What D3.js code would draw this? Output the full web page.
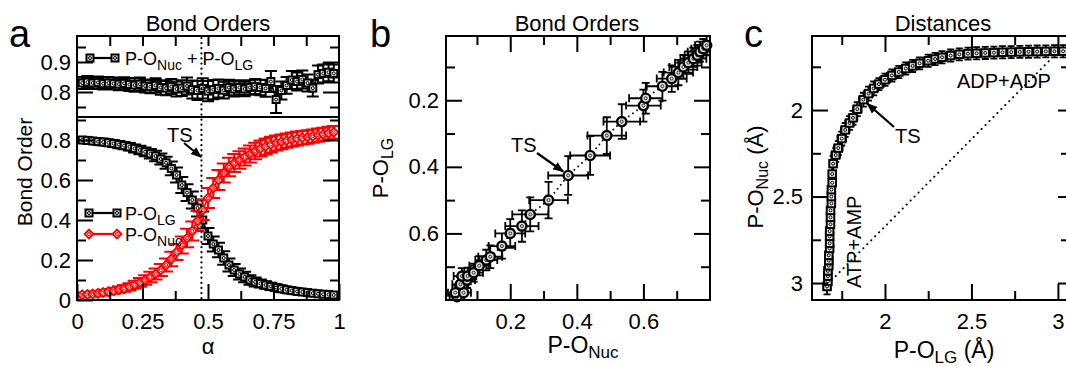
<!DOCTYPE html>
<html>
<head>
<meta charset="utf-8">
<script src="https://cdn.jsdelivr.net/npm/d3@7"></script>
<style>
  body { margin: 0; background: #fff; }
  svg { display: block; font-family: "Liberation Sans", Arial, Helvetica, sans-serif; }
  .tick line { stroke: #000; stroke-width: 2; }
  .tick text { font-size: 22px; fill: #000; }
</style>
</head>
<body>
<svg id="fig" width="1066" height="366"></svg>
<script>
// ---------- panel a : bond orders along alpha ----------
const alphaA = [0.02,0.04,0.06,0.08,0.10,0.12,0.14,0.16,0.18,0.20,0.22,0.24,0.26,0.28,0.30,0.32,0.34,0.36,0.38,0.40,
  0.42,0.44,0.46,0.48,0.50,0.52,0.54,0.56,0.58,0.60,0.62,0.64,0.66,0.68,0.70,0.72,0.74,0.76,0.78,0.80,
  0.82,0.84,0.86,0.88,0.90,0.92,0.94,0.96,0.98];
const lgBO = [0.800,0.798,0.795,0.792,0.790,0.786,0.782,0.777,0.772,0.766,0.758,0.750,0.741,0.731,0.720,0.705,0.686,0.658,0.625,0.575,
  0.537,0.500,0.460,0.400,0.320,0.280,0.250,0.210,0.175,0.150,0.130,0.115,0.100,0.090,0.082,0.075,0.068,0.062,0.056,0.051,
  0.047,0.043,0.040,0.037,0.034,0.031,0.029,0.027,0.025];
const lgErr = [0.015,0.015,0.015,0.015,0.016,0.016,0.017,0.018,0.018,0.019,0.020,0.021,0.022,0.024,0.026,0.028,0.030,0.034,0.038,0.040,
  0.042,0.042,0.042,0.042,0.040,0.038,0.036,0.034,0.032,0.030,0.028,0.026,0.024,0.022,0.020,0.019,0.018,0.017,0.016,0.015,
  0.014,0.014,0.013,0.013,0.012,0.012,0.012,0.012,0.012];
const nucBO = [0.026,0.028,0.030,0.033,0.037,0.041,0.046,0.052,0.058,0.066,0.076,0.088,0.100,0.115,0.130,0.150,0.175,0.205,0.240,0.275,
  0.310,0.345,0.395,0.450,0.510,0.560,0.600,0.635,0.665,0.685,0.700,0.715,0.730,0.745,0.758,0.768,0.777,0.785,0.791,0.797,
  0.802,0.807,0.811,0.815,0.819,0.824,0.829,0.834,0.839];
const nucErr = [0.012,0.012,0.013,0.013,0.014,0.014,0.015,0.016,0.017,0.018,0.020,0.022,0.024,0.026,0.028,0.030,0.033,0.036,0.040,0.043,
  0.046,0.048,0.050,0.050,0.050,0.050,0.050,0.048,0.046,0.045,0.044,0.043,0.042,0.041,0.040,0.040,0.039,0.038,0.037,0.036,
  0.035,0.035,0.034,0.034,0.033,0.033,0.032,0.032,0.031];
const sumBO = [0.830,0.833,0.830,0.832,0.828,0.830,0.828,0.826,0.829,0.825,0.823,0.826,0.820,0.818,0.822,0.815,0.813,0.818,0.810,0.813,
  0.820,0.808,0.805,0.812,0.803,0.808,0.812,0.806,0.815,0.810,0.815,0.810,0.815,0.818,0.815,0.812,0.835,0.775,0.805,0.822,
  0.840,0.835,0.842,0.830,0.813,0.858,0.862,0.866,0.862];
const sumErr = [0.020,0.020,0.020,0.020,0.020,0.020,0.020,0.020,0.020,0.022,0.022,0.022,0.022,0.022,0.024,0.024,0.024,0.025,0.025,0.026,
  0.028,0.030,0.032,0.034,0.034,0.032,0.030,0.028,0.026,0.025,0.024,0.024,0.024,0.025,0.026,0.028,0.035,0.045,0.030,0.028,
  0.030,0.030,0.030,0.028,0.028,0.030,0.030,0.030,0.030];
const tsAlpha = 0.475;

// ---------- panel b : P-O(LG) against P-O(Nuc) ----------
const bNuc = [0.040,0.035,0.060,0.050,0.070,0.055,0.072,0.090,0.107,0.128,0.140,0.175,0.200,0.235,0.260,0.315,0.374,0.440,0.490,0.535,
  0.600,0.607,0.657,0.685,0.705,0.720,0.735,0.750,0.762,0.770,0.780,0.790];
const bLG = [0.790,0.778,0.778,0.753,0.740,0.728,0.728,0.718,0.697,0.680,0.670,0.638,0.600,0.578,0.543,0.500,0.426,0.366,0.306,0.264,
  0.216,0.194,0.158,0.135,0.117,0.100,0.087,0.075,0.065,0.054,0.045,0.035];
const bNucErr = [0.022,0.022,0.022,0.024,0.024,0.025,0.026,0.028,0.030,0.033,0.036,0.040,0.045,0.050,0.054,0.058,0.060,0.060,0.058,0.055,
  0.052,0.050,0.047,0.045,0.044,0.042,0.040,0.039,0.038,0.037,0.036,0.035];
const bLGErr = [0.022,0.022,0.022,0.022,0.024,0.024,0.025,0.027,0.029,0.031,0.034,0.038,0.043,0.047,0.051,0.055,0.058,0.058,0.055,0.052,
  0.048,0.046,0.043,0.040,0.038,0.036,0.034,0.033,0.031,0.030,0.029,0.028];
const bTS = [0.374, 0.426];

// ---------- panel c : distances (angstrom) ----------
const cLG = [1.665,1.670,1.670,1.670,1.675,1.675,1.675,1.680,1.680,1.680,1.680,1.685,1.685,1.685,1.690,1.690,1.690,1.695,1.695,1.700,
  1.715,1.730,1.750,1.770,1.795,1.815,1.840,1.875,1.905,1.935,1.965,2.000,2.040,2.080,2.120,2.160,2.200,2.250,2.290,2.330,
  2.380,2.430,2.480,2.530,2.580,2.630,2.680,2.730,2.780,2.830,2.880,2.930,2.980,3.030];
const cNuc = [3.020,2.990,2.960,2.930,2.900,2.870,2.840,2.800,2.770,2.730,2.700,2.660,2.620,2.580,2.540,2.500,2.460,2.420,2.370,2.310,
  2.260,2.220,2.165,2.115,2.075,2.045,1.995,1.940,1.905,1.875,1.850,1.825,1.800,1.780,1.760,1.745,1.730,1.715,1.705,1.695,
  1.685,1.678,1.674,1.672,1.670,1.668,1.666,1.665,1.664,1.663,1.662,1.661,1.660,1.660];
const cLGErr = [0.020,0.020,0.020,0.020,0.020,0.020,0.020,0.020,0.020,0.020,0.020,0.020,0.020,0.020,0.020,0.020,0.020,0.020,0.020,0.020,
  0.025,0.025,0.025,0.025,0.025,0.025,0.025,0.025,0.025,0.025,0.030,0.030,0.030,0.030,0.030,0.030,0.030,0.030,0.030,0.030,
  0.030,0.030,0.030,0.030,0.030,0.030,0.030,0.030,0.030,0.030,0.030,0.030,0.030,0.030];
const cNucErr = [0.045,0.045,0.045,0.045,0.045,0.045,0.045,0.045,0.045,0.045,0.045,0.045,0.045,0.045,0.045,0.045,0.045,0.045,0.045,0.045,
  0.040,0.040,0.040,0.040,0.040,0.040,0.040,0.040,0.040,0.040,0.035,0.035,0.035,0.035,0.035,0.035,0.035,0.035,0.035,0.035,
  0.035,0.035,0.035,0.035,0.035,0.035,0.035,0.035,0.035,0.035,0.035,0.035,0.035,0.035];
const cTS = [1.875, 1.940];
const cDiag = [[1.715, 2.96], [2.96, 1.705]]; // ATP+AMP -> ADP+ADP

const RED = "#f00";
const svg = d3.select("#fig");
const defs = svg.append("defs");

defs.append("marker").attr("id", "arrow")
  .attr("viewBox", "0 0 10 10").attr("refX", 9).attr("refY", 5)
  .attr("markerWidth", 11).attr("markerHeight", 11)
  .attr("markerUnits", "userSpaceOnUse").attr("orient", "auto")
  .append("path").attr("d", "M0,1 L10,5 L0,9 Z").attr("fill", "#000");

function addClip(id, x, y, w, h) {
  defs.append("clipPath").attr("id", id)
    .append("rect").attr("x", x).attr("y", y).attr("width", w).attr("height", h);
}

function putAxis(g, axis, tx, ty) {
  const a = g.append("g").attr("transform", `translate(${tx},${ty})`).call(axis);
  a.select(".domain").remove();
  return a;
}

// text with a subscript part: parts = [[txt, sub?], ...]
function richText(g, x, y, parts, size, subSize, anchor, rotate) {
  const t = g.append("text")
    .attr("transform", `translate(${x},${y})` + (rotate ? " rotate(-90)" : ""))
    .attr("text-anchor", anchor || "start")
    .style("font-size", size + "px");
  let low = false;
  parts.forEach(([txt, sub]) => {
    const s = t.append("tspan").text(txt);
    if (sub && !low) { s.attr("dy", 5).style("font-size", subSize + "px"); low = true; }
    else if (!sub && low) { s.attr("dy", -5); low = false; }
  });
  return t;
}

function frame(g, x0, y0, w, h) {
  g.append("rect").attr("x", x0).attr("y", y0).attr("width", w).attr("height", h)
    .attr("fill", "none").attr("stroke", "#000").attr("stroke-width", 2);
}

// little "x in circle" dot that sits inside every symbol
function innerDot(g, cx, cy, col) {
  g.append("circle").attr("cx", cx).attr("cy", cy).attr("r", 1.5)
    .attr("fill", "none").attr("stroke", col).attr("stroke-width", 1);
}
function squareSym(g, cx, cy, s, col) {
  g.append("rect").attr("x", cx - s / 2).attr("y", cy - s / 2).attr("width", s).attr("height", s)
    .attr("fill", "#eee").attr("stroke", col).attr("stroke-width", 2);
  innerDot(g, cx, cy, col);
}
function diamondSym(g, cx, cy, s, col) {
  g.append("path").attr("d", `M${cx},${cy - s}L${cx + s},${cy}L${cx},${cy + s}L${cx - s},${cy}Z`)
    .attr("fill", "#fff").attr("stroke", col).attr("stroke-width", 1.9);
  innerDot(g, cx, cy, col);
}
function circleSym(g, cx, cy, r) {
  g.append("circle").attr("cx", cx).attr("cy", cy).attr("r", r)
    .attr("fill", "#ddd").attr("stroke", "#000").attr("stroke-width", 2.4);
  innerDot(g, cx, cy, "#333");
}

// vertical error bars with caps
function vErrBars(g, pts, cap, col) {
  const p = d3.path();
  pts.forEach(d => {
    p.moveTo(d.x, d.y0); p.lineTo(d.x, d.y1);
    p.moveTo(d.x - cap / 2, d.y0); p.lineTo(d.x + cap / 2, d.y0);
    p.moveTo(d.x - cap / 2, d.y1); p.lineTo(d.x + cap / 2, d.y1);
  });
  g.append("path").attr("d", p.toString()).attr("fill", "none")
    .attr("stroke", col).attr("stroke-width", 2);
}
// horizontal + vertical error bars with caps
function crossBars(g, pts, cap) {
  const p = d3.path();
  pts.forEach(d => {
    p.moveTo(d.x0, d.y); p.lineTo(d.x1, d.y);
    p.moveTo(d.x0, d.y - cap / 2); p.lineTo(d.x0, d.y + cap / 2);
    p.moveTo(d.x1, d.y - cap / 2); p.lineTo(d.x1, d.y + cap / 2);
    p.moveTo(d.x, d.y0); p.lineTo(d.x, d.y1);
    p.moveTo(d.x - cap / 2, d.y0); p.lineTo(d.x + cap / 2, d.y0);
    p.moveTo(d.x - cap / 2, d.y1); p.lineTo(d.x + cap / 2, d.y1);
  });
  g.append("path").attr("d", p.toString()).attr("fill", "none")
    .attr("stroke", "#000").attr("stroke-width", 1.8);
}

function title(txt, x) {
  svg.append("text").attr("x", x).attr("y", 31).attr("text-anchor", "middle")
    .style("font-size", "22px").text(txt);
}
function letter(txt, x, y) {
  svg.append("text").attr("x", x).attr("y", y).style("font-size", "38px").text(txt);
}

// ===================== panel a =====================
const ax = d3.scaleLinear().domain([0, 1]).range([77, 339]);
const ayTop = d3.scaleLinear().domain([0.7167, 0.9867]).range([117, 36]);
const ayBot = d3.scaleLinear().domain([0, 0.915]).range([300, 117]);
addClip("clipAt", 77, 36, 262, 81);
addClip("clipAb", 77, 117, 262, 183);

const gA = svg.append("g");
const gAt = gA.append("g").attr("clip-path", "url(#clipAt)");
const gAb = gA.append("g").attr("clip-path", "url(#clipAb)");

const sumPts = alphaA.map((a, i) => ({ x: ax(a), y: ayTop(sumBO[i]), y0: ayTop(sumBO[i] - sumErr[i]), y1: ayTop(sumBO[i] + sumErr[i]) }));
const lgPts = alphaA.map((a, i) => ({ x: ax(a), y: ayBot(lgBO[i]), y0: ayBot(lgBO[i] - lgErr[i]), y1: ayBot(lgBO[i] + lgErr[i]) }));
const nucPts = alphaA.map((a, i) => ({ x: ax(a), y: ayBot(nucBO[i]), y0: ayBot(nucBO[i] - nucErr[i]), y1: ayBot(nucBO[i] + nucErr[i]) }));

const lineXY = d3.line().x(d => d.x).y(d => d.y);

vErrBars(gAt, sumPts, 12, "#000");
gAt.append("path").attr("d", lineXY(sumPts)).attr("fill", "none").attr("stroke", "#000").attr("stroke-width", 1.8);
sumPts.forEach(d => squareSym(gAt, d.x, d.y, 7, "#000"));

vErrBars(gAb, lgPts, 13, "#000");
gAb.append("path").attr("d", lineXY(lgPts)).attr("fill", "none").attr("stroke", "#000").attr("stroke-width", 1.8);
lgPts.forEach(d => squareSym(gAb, d.x, d.y, 7, "#000"));

vErrBars(gAb, nucPts, 14, RED);
gAb.append("path").attr("d", lineXY(nucPts)).attr("fill", "none").attr("stroke", RED).attr("stroke-width", 1.8);
nucPts.forEach(d => diamondSym(gAb, d.x, d.y, 4.4, RED));

// TS dotted line through both sub panels
gA.append("line").attr("x1", ax(tsAlpha)).attr("x2", ax(tsAlpha)).attr("y1", 38).attr("y2", 299)
  .attr("stroke", "#000").attr("stroke-width", 2.2).attr("stroke-dasharray", "0.1,5").attr("stroke-linecap", "round");

// axes a
putAxis(gA, d3.axisBottom(ax).tickValues([0, 0.25, 0.5, 0.75, 1]).tickSize(-16).tickPadding(13).tickFormat(d => String(d)), 0, 300);
putAxis(gA, d3.axisBottom(ax).tickValues([0.125, 0.375, 0.625, 0.875]).tickSize(-9).tickFormat(""), 0, 300);
putAxis(gA, d3.axisTop(ax).tickValues([0.125, 0.25, 0.375, 0.5, 0.625, 0.75, 0.875]).tickSize(-10).tickFormat(""), 0, 36);
putAxis(gA, d3.axisLeft(ayBot).tickValues([0, 0.2, 0.4, 0.6, 0.8]).tickSize(-16).tickPadding(6).tickFormat(d => String(d)), 77, 0);
putAxis(gA, d3.axisLeft(ayBot).tickValues([0.1, 0.3, 0.5, 0.7, 0.9]).tickSize(-9).tickFormat(""), 77, 0);
putAxis(gA, d3.axisRight(ayBot).tickValues([0.2, 0.4, 0.6, 0.8]).tickSize(-16).tickFormat(""), 339, 0);
putAxis(gA, d3.axisRight(ayBot).tickValues([0.1, 0.3, 0.5, 0.7, 0.9]).tickSize(-9).tickFormat(""), 339, 0);
putAxis(gA, d3.axisLeft(ayTop).tickValues([0.8, 0.9]).tickSize(-16).tickPadding(6).tickFormat(d => String(d)), 77, 0);
putAxis(gA, d3.axisLeft(ayTop).tickValues([0.75, 0.85, 0.95]).tickSize(-9).tickFormat(""), 77, 0);
putAxis(gA, d3.axisRight(ayTop).tickValues([0.8, 0.9]).tickSize(-16).tickFormat(""), 339, 0);
putAxis(gA, d3.axisRight(ayTop).tickValues([0.75, 0.85, 0.95]).tickSize(-9).tickFormat(""), 339, 0);
frame(gA, 77, 36, 262, 264);
gA.append("line").attr("x1", 77).attr("x2", 339).attr("y1", 117).attr("y2", 117).attr("stroke", "#000").attr("stroke-width", 2);

// legends a
gA.append("line").attr("x1", 90).attr("x2", 115).attr("y1", 58).attr("y2", 58).attr("stroke", "#000").attr("stroke-width", 2.2);
squareSym(gA, 90, 58, 7, "#000"); squareSym(gA, 115, 58, 7, "#000");
richText(gA, 125, 65, [["P-O", false], ["Nuc", true], [" + P-O", false], ["LG", true]], 18, 14);

gA.append("line").attr("x1", 89).attr("x2", 117).attr("y1", 213).attr("y2", 213).attr("stroke", "#000").attr("stroke-width", 2.2);
squareSym(gA, 89, 213, 7, "#000"); squareSym(gA, 117, 213, 7, "#000");
richText(gA, 125, 220, [["P-O", false], ["LG", true]], 18, 14);
gA.append("line").attr("x1", 89).attr("x2", 117).attr("y1", 234).attr("y2", 234).attr("stroke", RED).attr("stroke-width", 2.2);
diamondSym(gA, 89, 234, 4.4, RED); diamondSym(gA, 117, 234, 4.4, RED);
richText(gA, 125, 241, [["P-O", false], ["Nuc", true]], 18, 14);

// TS arrow a
gA.append("text").attr("x", 167).attr("y", 142).style("font-size", "20px").text("TS");
gA.append("line").attr("x1", 184).attr("y1", 143).attr("x2", 201).attr("y2", 157)
  .attr("stroke", "#000").attr("stroke-width", 2.2).attr("marker-end", "url(#arrow)");

gA.append("text").attr("x", 208).attr("y", 354).attr("text-anchor", "middle").style("font-size", "22px").text("α");
gA.append("text").attr("transform", "translate(32,172) rotate(-90)").attr("text-anchor", "middle")
  .style("font-size", "21px").text("Bond Order");
title("Bond Orders", 208);
letter("a", 9, 47);

// ===================== panel b =====================
const bx = d3.scaleLinear().domain([0.007, 0.8]).range([446, 710]);
const by = d3.scaleLinear().domain([0.007, 0.8]).range([36, 300]);
addClip("clipB", 446, 36, 264, 264);
const gB = svg.append("g");
const gBc = gB.append("g").attr("clip-path", "url(#clipB)");

const bPts = bNuc.map((v, i) => ({
  x: bx(v), y: by(bLG[i]),
  x0: bx(v - bNucErr[i]), x1: bx(v + bNucErr[i]),
  y0: by(bLG[i] - bLGErr[i]), y1: by(bLG[i] + bLGErr[i])
}));
crossBars(gBc, bPts, 8);
gBc.append("path").attr("d", lineXY(bPts)).attr("fill", "none").attr("stroke", "#000")
  .attr("stroke-width", 1.8).attr("stroke-dasharray", "0.1,5").attr("stroke-linecap", "round");
bPts.forEach(d => circleSym(gB, d.x, d.y, 4.6));

putAxis(gB, d3.axisBottom(bx).tickValues([0.2, 0.4, 0.6]).tickSize(-16).tickPadding(13).tickFormat(d => String(d)), 0, 300);
putAxis(gB, d3.axisBottom(bx).tickValues([0.1, 0.3, 0.5, 0.7]).tickSize(-9).tickFormat(""), 0, 300);
putAxis(gB, d3.axisTop(bx).tickValues([0.2, 0.4, 0.6]).tickSize(-16).tickFormat(""), 0, 36);
putAxis(gB, d3.axisTop(bx).tickValues([0.1, 0.3, 0.5, 0.7]).tickSize(-9).tickFormat(""), 0, 36);
putAxis(gB, d3.axisLeft(by).tickValues([0.2, 0.4, 0.6]).tickSize(-16).tickPadding(7).tickFormat(d => String(d)), 446, 0);
putAxis(gB, d3.axisLeft(by).tickValues([0.1, 0.3, 0.5, 0.7]).tickSize(-9).tickFormat(""), 446, 0);
putAxis(gB, d3.axisRight(by).tickValues([0.2, 0.4, 0.6]).tickSize(-16).tickFormat(""), 710, 0);
putAxis(gB, d3.axisRight(by).tickValues([0.1, 0.3, 0.5, 0.7]).tickSize(-9).tickFormat(""), 710, 0);
frame(gB, 446, 36, 264, 264);

gB.append("text").attr("x", 511).attr("y", 152).style("font-size", "20px").text("TS");
gB.append("line").attr("x1", 537).attr("y1", 153).attr("x2", bx(bTS[0]) - 5).attr("y2", by(bTS[1]) - 4)
  .attr("stroke", "#000").attr("stroke-width", 2.2).attr("marker-end", "url(#arrow)");

richText(gB, 583, 353, [["P-O", false], ["Nuc", true]], 23, 17, "middle");
richText(gB, 388, 168, [["P-O", false], ["LG", true]], 22, 16, "middle", true);
title("Bond Orders", 577);
letter("b", 370, 47);

// ===================== panel c =====================
const cx = d3.scaleLinear().domain([1.578, 3.07]).range([812, 1070]);
const cy = d3.scaleLinear().domain([1.572, 3.098]).range([36, 300]);
addClip("clipC", 812, 36, 258, 264);
const gC = svg.append("g");
const gCc = gC.append("g").attr("clip-path", "url(#clipC)");

gCc.append("line").attr("x1", cx(cDiag[0][0])).attr("y1", cy(cDiag[0][1]))
  .attr("x2", cx(cDiag[1][0])).attr("y2", cy(cDiag[1][1]))
  .attr("stroke", "#000").attr("stroke-width", 2).attr("stroke-dasharray", "0.1,5.5").attr("stroke-linecap", "round");

const cPts = cLG.map((v, i) => ({
  x: cx(v), y: cy(cNuc[i]),
  x0: cx(v - cLGErr[i]), x1: cx(v + cLGErr[i]),
  y0: cy(cNuc[i] - cNucErr[i]), y1: cy(cNuc[i] + cNucErr[i])
}));
crossBars(gCc, cPts, 7);
gCc.append("path").attr("d", lineXY(cPts)).attr("fill", "none").attr("stroke", "#000").attr("stroke-width", 1.8);
cPts.forEach(d => squareSym(gCc, d.x, d.y, 7.5, "#000"));

putAxis(gC, d3.axisBottom(cx).tickValues([2, 2.5, 3]).tickSize(-16).tickPadding(13).tickFormat(d => String(d)), 0, 300);
putAxis(gC, d3.axisBottom(cx).tickValues([1.75, 2.25, 2.75]).tickSize(-9).tickFormat(""), 0, 300);
putAxis(gC, d3.axisTop(cx).tickValues([2, 2.5, 3]).tickSize(-16).tickFormat(""), 0, 36);
putAxis(gC, d3.axisTop(cx).tickValues([1.75, 2.25, 2.75]).tickSize(-9).tickFormat(""), 0, 36);
putAxis(gC, d3.axisLeft(cy).tickValues([2, 2.5, 3]).tickSize(-16).tickPadding(9).tickFormat(d => String(d)), 812, 0);
putAxis(gC, d3.axisLeft(cy).tickValues([1.75, 2.25, 2.75]).tickSize(-9).tickFormat(""), 812, 0);
putAxis(gC, d3.axisRight(cy).tickValues([2, 2.5, 3]).tickSize(-12).tickFormat(""), 1070, 0);
putAxis(gC, d3.axisRight(cy).tickValues([1.75, 2.25, 2.75]).tickSize(-9).tickFormat(""), 1070, 0);
frame(gC, 812, 36, 258, 264);

gC.append("text").attr("x", 957).attr("y", 88).style("font-size", "20px").text("ADP+ADP");
gC.append("text").attr("transform", "translate(861,288) rotate(-90)").style("font-size", "20px").text("ATP+AMP");
gC.append("text").attr("x", 895).attr("y", 143).style("font-size", "20px").text("TS");
gC.append("line").attr("x1", 894).attr("y1", 127).attr("x2", cx(cTS[0]) + 4).attr("y2", cy(cTS[1]) + 4)
  .attr("stroke", "#000").attr("stroke-width", 2.2).attr("marker-end", "url(#arrow)");

richText(gC, 944, 358, [["P-O", false], ["LG", true], [" (Å)", false]], 23, 17, "middle");
richText(gC, 763, 177, [["P-O", false], ["Nuc", true], [" (Å)", false]], 22, 16, "middle", true);
title("Distances", 943);
letter("c", 744, 47);
</script>
</body>
</html>
